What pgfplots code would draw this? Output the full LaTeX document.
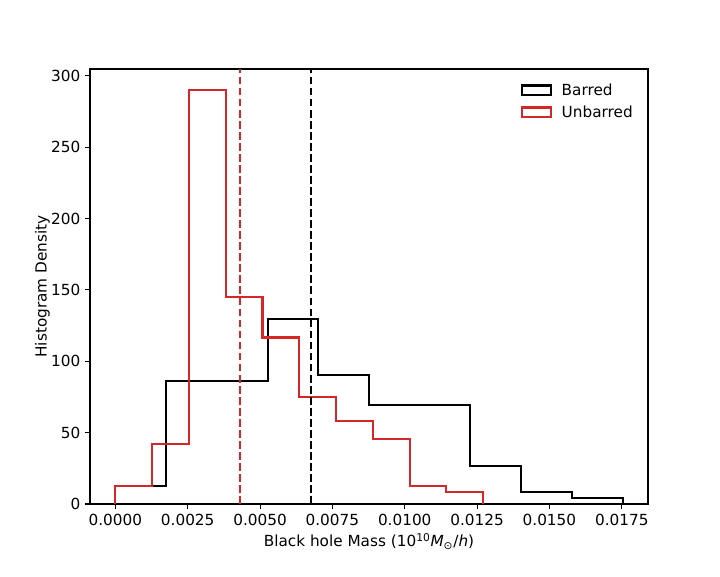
\documentclass[border=0pt]{standalone}
\usepackage{fontspec}
\setmainfont{DejaVu Sans}
\usepackage{pgfplots}
\pgfplotsset{compat=1.18}
\definecolor{myred}{RGB}{214,39,40}
\begin{document}
\begin{tikzpicture}
\path[use as bounding box] (0,0) rectangle (518.4pt,414.72pt);
\begin{axis}[
  at={(64.8pt,51.84pt)}, anchor=south west,
  width=401.76pt, height=313.2pt, scale only axis,
  xmin=-0.000877, xmax=0.018407,
  ymin=0, ymax=304.7,
  xtick={0,0.0025,0.005,0.0075,0.01,0.0125,0.015,0.0175},
  ytick={0,50,100,150,200,250,300},
  scaled x ticks=false,
  xticklabel style={/pgf/number format/.cd, fixed, fixed zerofill, precision=4},
  /pgf/number format/assume math mode=true,
  tick align=outside, tick pos=left,
  major tick length=3.5pt,
  tick style={black, line width=0.8pt},
  axis line style={line width=0.8pt},
  every tick label/.append style={font=\fontsize{11}{13}\selectfont},
  xlabel={Black hole Mass (10\textsuperscript{10}\textit{M}\textsubscript{⊙}/\textit{h})},
  ylabel={Histogram Density},
  label style={font=\fontsize{11}{13}\selectfont},
  xlabel style={yshift=1pt},
  ylabel style={yshift=-6pt},
  legend style={at={(0.983,0.98)}, anchor=north east, draw=none, fill=none,
    font=\fontsize{11}{13}\selectfont, row sep=2pt, inner sep=2pt},
  legend cell align=left,
  legend image code/.code={\draw[#1, line width=1.5pt] (0pt,-3.5pt) rectangle (21pt,3.5pt); \path (26pt,0);},
]
\addplot[black, line width=1.5pt, const plot mark left] coordinates {
(0,0) (0,12.6) (0.001753,86.2) (0.003506,86.2) (0.005259,129.7) (0.007012,90.4)
(0.008765,69.4) (0.010518,69.4) (0.012271,26.4) (0.014024,8.4) (0.015777,4.4)
(0.01753,4.4) (0.01753,0)};
\addlegendentry{Barred}
\addplot[myred, line width=1.5pt, const plot mark left] coordinates {
(0,0) (0,12.6) (0.001271,41.8) (0.002542,289.7) (0.003813,145.3) (0.005084,116.6)
(0.006355,75.0) (0.007626,58.4) (0.008897,45.8) (0.010168,12.6) (0.011439,8.6)
(0.01271,8.6) (0.01271,0)};
\addlegendentry{Unbarred}
\addplot[myred, line width=1.5pt, dash pattern=on 5.55pt off 2.4pt, forget plot] coordinates {(0.00431,0) (0.00431,304.7)};
\addplot[black, line width=1.5pt, dash pattern=on 5.55pt off 2.4pt, forget plot] coordinates {(0.00677,0) (0.00677,304.7)};
\end{axis}
\end{tikzpicture}
\end{document}
